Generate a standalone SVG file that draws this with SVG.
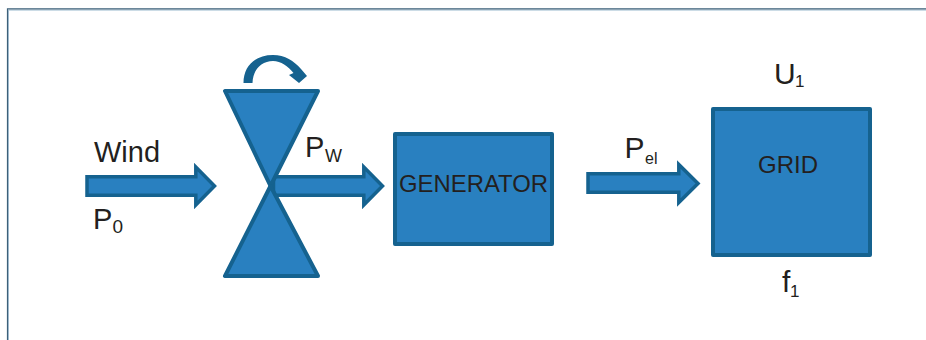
<svg xmlns="http://www.w3.org/2000/svg" width="926" height="340" viewBox="0 0 926 340">
<style>
.s{fill:#2980c0;stroke:#15628f;stroke-width:4;stroke-linejoin:round}
.a{fill:#2980c0;stroke:#15628f;stroke-width:3.500;stroke-linejoin:miter}
text{font-family:"Liberation Sans",Arial,sans-serif;fill:#231f20}
.l{font-size:29px}
.m{font-size:30px}
.b{font-size:24px}
.u{font-size:17px}
</style>
<rect width="926" height="340" fill="#fff"/>
<g id="frame" fill="none">
<path d="M8 340V9.500H926" stroke="#a9c4d6" stroke-width="1" transform="translate(0.500 0.600)"/>
<path d="M7.500 340V8.800H926" stroke="#3d6079" stroke-width="1.200"/>
</g>
<g id="connectors">
<path class="a" d="M87 176.800H195.800V167L214.500 186L195.800 205V195.200H87Z"/>
<path class="a" d="M273.500 176.800H363.800V167L382.500 186L363.800 205V195.200H273.500Z"/>
<path class="a" d="M588 173.800H678.800V164.500L698 183.500L678.800 202.500V192.200H588Z"/>
<path d="M243.500 83C243.500 66 255 55 273 55C285 55 294 61 301 69L307 76L299 83L289 75L293.500 73C288 66 281 61 273 61C262 61 253 69 252.500 83Z" fill="#15628f"/>
</g>
<g id="turbine">
<path class="s" d="M225 91H318L270.500 186Z"/>
<path class="s" d="M225 276H318L270.500 186Z"/>
</g>
<g id="generator">
<rect class="s" x="395" y="134" width="157" height="110"/>
<text class="b" x="399" y="192" textLength="149" lengthAdjust="spacingAndGlyphs">GENERATOR</text>
</g>
<g id="grid">
<rect class="s" x="713" y="109" width="157" height="146"/>
<text class="b" x="758" y="173">GRID</text>
</g>
<g id="labels">
<text class="l" x="94" y="162" textLength="66" lengthAdjust="spacingAndGlyphs">Wind</text>
<text class="l" x="93" y="228.500">P</text><text x="112.500" y="233" font-size="19">0</text>
<text class="l" x="305" y="156.700">P</text><text x="325" y="162.300" font-size="18" textLength="17" lengthAdjust="spacingAndGlyphs">W</text>
<text class="m" x="624.500" y="158.300">P</text><text x="645" y="163.500" font-size="16">el</text>
<text class="m" x="774" y="83.500">U</text><text class="u" x="795" y="87">1</text>
<text class="m" x="782" y="292">f</text><text class="u" x="790" y="296.500">1</text>
</g>
</svg>
